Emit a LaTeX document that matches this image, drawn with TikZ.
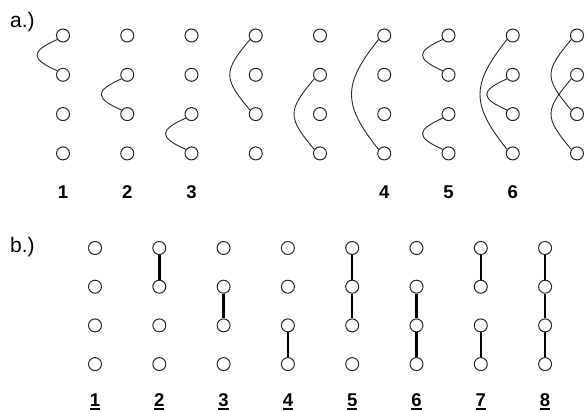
\documentclass[tikz,border=0pt]{standalone}
\usepackage{fontspec}
\setmainfont{Liberation Sans}
\newcommand{\myul}[1]{\setbox0\hbox{#1}\rlap{\rule[-3.2pt]{\wd0}{1.8pt}}\box0}
\begin{document}
\begin{tikzpicture}[x=1pt,y=-1pt,
 dot/.style={circle,draw=black!85,fill=white,line width=1pt,minimum size=13pt,inner sep=0pt},
 arcline/.style={draw=black!85,line width=0.9pt},
 bar/.style={draw=black,line width=2.5pt},
 num/.style={font=\bfseries\fontsize{18.5}{18.5}\selectfont,anchor=base,inner sep=0pt},
 tag/.style={font=\fontsize{21}{21}\selectfont,anchor=base west,inner sep=0pt}]
\useasboundingbox (0,0) rectangle (587,412);
% part a
\node[tag] (ta) at (10,28) {a.)};
\foreach \c in {1,...,9}{
 \foreach \r in {1,...,4}{
  \node[dot] (t\c\r) at ({63+64.25*(\c-1)},{35.5+39.3*(\r-1)}) {};
 }}
% span 1
\draw[arcline] (t11.215) .. controls +(-27,12) and +(-27,-12) .. (t12.145);
\draw[arcline] (t22.215) .. controls +(-27,12) and +(-27,-12) .. (t23.145);
\draw[arcline] (t33.215) .. controls +(-27,12) and +(-27,-12) .. (t34.145);
\draw[arcline] (t71.215) .. controls +(-27,12) and +(-27,-12) .. (t72.145);
\draw[arcline] (t73.215) .. controls +(-27,12) and +(-27,-12) .. (t74.145);
\draw[arcline] (t82.215) .. controls +(-27,12) and +(-27,-12) .. (t83.145);
% span 2
\draw[arcline] (t41.215) .. controls +(-27,32) and +(-27,-32) .. (t43.145);
\draw[arcline] (t52.215) .. controls +(-27,32) and +(-27,-32) .. (t54.145);
\draw[arcline] (t91.215) .. controls +(-27,32) and +(-27,-32) .. (t93.145);
\draw[arcline] (t92.215) .. controls +(-27,32) and +(-27,-32) .. (t94.145);
% span 3
\draw[arcline] (t61.215) .. controls +(-36,45) and +(-36,-45) .. (t64.145);
\draw[arcline] (t81.215) .. controls +(-36,45) and +(-36,-45) .. (t84.145);
% labels a
\node[num] (la1) at (63,198) {1};
\node[num] (la2) at (127.25,198) {2};
\node[num] (la3) at (191.5,198) {3};
\node[num] (la4) at (384.25,198) {4};
\node[num] (la5) at (448.5,198) {5};
\node[num] (la6) at (512.75,198) {6};
% part b
\node[tag] (tb) at (10,252) {b.)};
\foreach \c in {1,...,8}{
 \foreach \r in {1,...,4}{
  \node[dot] (b\c\r) at ({95+64.3*(\c-1)},{248+38.7*(\r-1)}) {};
 }
 \node[num] (lb\c) at ({95+64.3*(\c-1)},406.5) {\myul{\c}};
}
\draw[bar] (b21) -- (b22);
\draw[bar] (b32) -- (b33);
\draw[bar] (b43) -- (b44);
\draw[bar] (b51) -- (b52);
\draw[bar] (b52) -- (b53);
\draw[bar] (b62) -- (b63);
\draw[bar] (b63) -- (b64);
\draw[bar] (b71) -- (b72);
\draw[bar] (b73) -- (b74);
\draw[bar] (b81) -- (b82);
\draw[bar] (b82) -- (b83);
\draw[bar] (b83) -- (b84);
\end{tikzpicture}
\end{document}
